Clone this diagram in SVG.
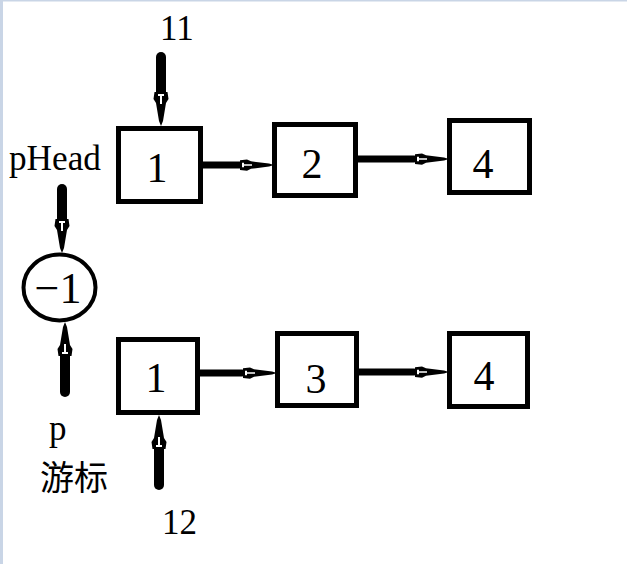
<svg xmlns="http://www.w3.org/2000/svg" xmlns:xlink="http://www.w3.org/1999/xlink" width="627" height="564" viewBox="0 0 627 564">
<style>
.box{fill:#fff;stroke:#000;stroke-width:5}
.num{font-family:"Liberation Serif","Times New Roman",serif;font-size:42px;fill:#000;text-anchor:middle}
.lbl{font-family:"Liberation Serif","Times New Roman",serif;font-size:35px;fill:#000}
.cjk{font-family:"Liberation Serif","Noto Sans CJK SC",sans-serif;font-size:34px;fill:#000}
.shaft{stroke:#000;stroke-linecap:round;fill:none}
</style>
<defs>
<g id="head">
<polygon points="-34,-6.5 -27,-7.5 -23,-5 -5,-2 0,0 -5,2 -23,5 -27,7.5 -34,6.5" fill="#000"/>
<rect x="-32" y="-1" width="10" height="2" fill="#fff"/>
<rect x="-32" y="-3" width="2" height="6" fill="#fff"/>
</g>
</defs>
<rect width="627" height="564" fill="#fff"/>
<rect x="0" y="0" width="3" height="564" fill="#c9d5e6"/>
<rect x="0" y="0" width="627" height="1.5" fill="#c9d5e6"/>

<g id="n1a"><rect class="box" x="118.5" y="128.5" width="82" height="73"/><text class="num" x="157" y="182">1</text></g>
<g id="n2"><rect class="box" x="274.5" y="124.5" width="81" height="71"/><text class="num" x="312" y="178">2</text></g>
<g id="n4a"><rect class="box" x="449.5" y="120.5" width="80" height="72"/><text class="num" x="483" y="178">4</text></g>
<g id="n1b"><rect class="box" x="118.5" y="339.5" width="79" height="73"/><text class="num" x="156" y="392">1</text></g>
<g id="n3"><rect class="box" x="277.5" y="333.5" width="79" height="72"/><text class="num" x="316" y="393">3</text></g>
<g id="n4b"><rect class="box" x="449.5" y="333.5" width="78" height="73"/><text class="num" x="484" y="390">4</text></g>
<g id="nm1"><ellipse cx="59.5" cy="287.5" rx="36" ry="33" fill="#fff" stroke="#000" stroke-width="4"/><text x="58" y="303" font-family="Liberation Serif,serif" font-size="44" text-anchor="middle">−1</text></g>

<g id="labels">
<text class="lbl" x="160" y="40">11</text>
<text class="lbl" x="162" y="534">12</text>
<text class="lbl" x="9" y="170" font-size="32" textLength="92" lengthAdjust="spacingAndGlyphs">pHead</text>
<text class="lbl" x="49" y="440">p</text>
<text class="cjk" x="40" y="490">游标</text>
</g>

<g id="connectors">
<line class="shaft" x1="161" y1="57" x2="161" y2="94" stroke-width="10"/>
<use xlink:href="#head" transform="translate(161,126) rotate(90)"/>
<line class="shaft" x1="62" y1="189" x2="62" y2="221" stroke-width="10"/>
<use xlink:href="#head" transform="translate(62,253) rotate(90)"/>
<line class="shaft" x1="65" y1="392" x2="65" y2="356" stroke-width="10"/>
<use xlink:href="#head" transform="translate(65,322) rotate(-90)"/>
<line class="shaft" x1="159" y1="485" x2="159" y2="448" stroke-width="10"/>
<use xlink:href="#head" transform="translate(159,415) rotate(-90)"/>
<line class="shaft" x1="203" y1="165" x2="240" y2="165" stroke-width="7" stroke-linecap="butt"/>
<use xlink:href="#head" transform="translate(274,165) scale(1,0.75)"/>
<line class="shaft" x1="358" y1="159" x2="414" y2="159" stroke-width="7" stroke-linecap="butt"/>
<use xlink:href="#head" transform="translate(449,159) scale(1,0.75)"/>
<line class="shaft" x1="200" y1="373" x2="242" y2="373" stroke-width="7" stroke-linecap="butt"/>
<use xlink:href="#head" transform="translate(277,373) scale(1,0.75)"/>
<line class="shaft" x1="359" y1="372" x2="414" y2="372" stroke-width="7" stroke-linecap="butt"/>
<use xlink:href="#head" transform="translate(449,372) scale(1,0.75)"/>
</g>
</svg>
